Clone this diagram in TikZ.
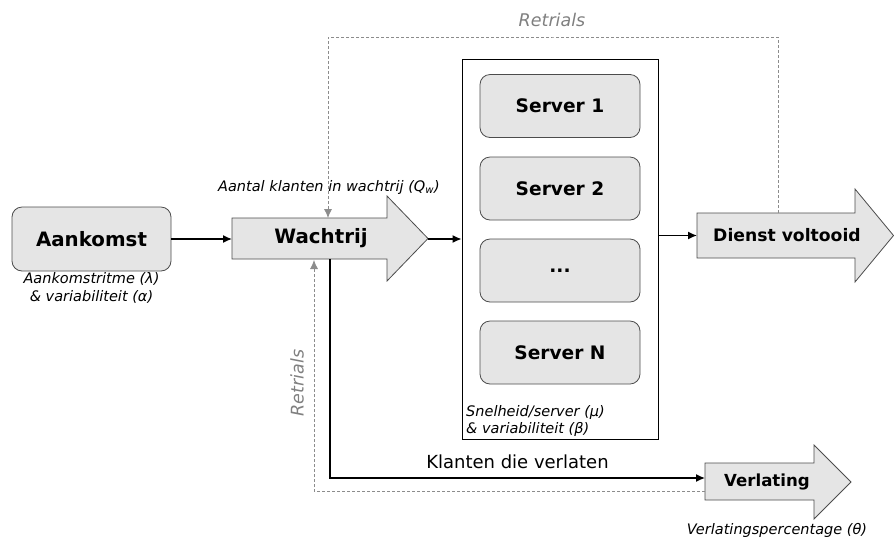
\documentclass[tikz,border=0pt]{standalone}
\usepackage{fontspec}
\setmainfont{DejaVu Sans}
\usetikzlibrary{arrows.meta}

\begin{document}
\begin{tikzpicture}[x=1pt, y=-1pt,
  title/.style={font=\fontsize{19.8}{23}\selectfont\bfseries},
  box/.style={draw=black!70, line width=0.8pt, fill=gray!20, rounded corners=10pt, minimum width=159pt, minimum height=64pt, inner sep=0pt, title},
  srv/.style={box, minimum width=160pt, minimum height=63pt, font=\fontsize{18.6}{22}\selectfont\bfseries},
  blockarrow/.style={draw=black!70, fill=gray!20, line width=0.8pt},
  note/.style={font=\fontsize{14.5}{17.5}\selectfont\itshape, inner sep=0pt},
  flow/.style={-{Latex[length=9pt,width=8pt]}, line width=1.4pt},
  retry/.style={-{Latex[length=9pt,width=8pt]}, draw=black!45, dash pattern=on 3pt off 2pt, line width=0.8pt},
  retrylabel/.style={text=black!50, font=\fontsize{17.5}{20}\selectfont\itshape, inner sep=0pt}]
\useasboundingbox (0,0) rectangle (894,542);

% arrival
\node[box] (aankomst) at (91.5,239) {Aankomst};
\node[note, align=center] (aankomst-note) at (91.5,288) {Aankomstritme (λ)\\\& variabiliteit (α)};

% queue
\draw[blockarrow] (232,218) -- (387,218) -- (387,196) -- (428,238.5) -- (387,281) -- (387,259) -- (232,259) -- cycle;
\node[title] (wachtrij) at (321,238.5) {Wachtrij};
\node[note] (wq-note) at (329,187) {Aantal klanten in wachtrij (Q\textsubscript{w})};
\coordinate (wq-in) at (232,239);
\coordinate (wq-tip) at (428,239);
\coordinate (wq-top) at (328,218);
\coordinate (wq-out) at (330,259);
\coordinate (wq-back) at (314,260);

% servers
\node[draw, line width=0.8pt, minimum width=196pt, minimum height=380pt, inner sep=0pt] (pool) at (560,249) {};
\node[srv] (s1) at (560,106) {Server 1};
\node[srv] (s2) at (560,188.5) {Server 2};
\node[srv] (sdots) at (560,270.5) {...};
\node[srv] (sn) at (560,352.5) {Server N};
\node[note, anchor=west, align=left] (pool-note) at (466,421) {Snelheid/server (μ)\\\& variabiliteit (β)};

% done
\draw[blockarrow] (697,213) -- (855,213) -- (855,189) -- (893.5,235.5) -- (855,282) -- (855,258) -- (697,258) -- cycle;
\node[font=\fontsize{17.2}{20}\selectfont\bfseries] (dienst) at (787,235.5) {Dienst voltooid};
\coordinate (dv-in) at (697,235.5);
\coordinate (dv-top) at (778,213);

% abandon
\draw[blockarrow] (705,463) -- (814,463) -- (814,445) -- (851,482) -- (814,519) -- (814,500) -- (705,500) -- cycle;
\node[font=\fontsize{16.6}{19}\selectfont\bfseries] (verlating) at (767,482) {Verlating};
\node[note] (vl-note) at (777,530) {Verlatingspercentage (θ)};
\coordinate (vl-in) at (705,478);
\coordinate (vl-back) at (705,491);

% flows
\draw[flow] (aankomst.east |- wq-in) -- (wq-in);
\draw[flow] (wq-tip) -- (wq-tip -| pool.west);
\draw[flow] (dv-in -| pool.east) -- (dv-in);
\draw[flow] (wq-out) |- (vl-in) node[pos=0.75, above=5pt, font=\fontsize{18}{21}\selectfont] {Klanten die verlaten};

% retrials
\coordinate (loop-top) at (553,37);
\draw[retry] (dv-top) |- (loop-top) -| (wq-top);
\node[retrylabel] (retry-top) at (552,20) {Retrials};
\draw[retry] (vl-back) -| (wq-back);
\node[retrylabel, rotate=90] (retry-side) at (297,383) {Retrials};
\end{tikzpicture}
\end{document}
